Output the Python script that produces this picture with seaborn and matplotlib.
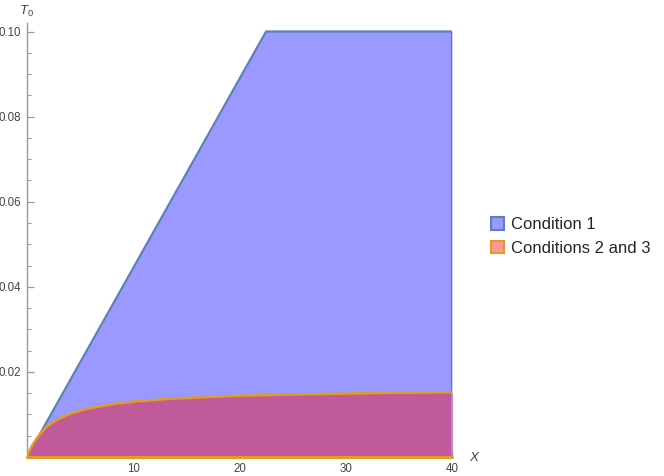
import matplotlib
matplotlib.use("Agg")
import matplotlib.pyplot as plt
from matplotlib.patches import Patch
import numpy as np
import pandas as pd
import seaborn as sns

# ---- data ----
cond1_x = [0.0, 22.5, 40.0]
cond1_top = [0.0, 0.10, 0.10]

cond23_x = [0, 0.25, 0.5, 1, 1.5, 2, 3, 4, 5, 6, 8, 10, 13, 16, 20, 25, 30, 35, 40]
cond23_top = [0, 0.0015, 0.0028, 0.0047, 0.0062, 0.0074, 0.0090, 0.0101, 0.0109,
              0.0115, 0.0124, 0.0130, 0.0136, 0.0140, 0.0144, 0.0147, 0.0149,
              0.0151, 0.0152]

legend_labels = ["Condition 1", "Conditions 2 and 3"]
x_major = [10, 20, 30, 40]
y_major = [0.02, 0.04, 0.06, 0.08, 0.10]
y_labels = ["0.02", "0.04", "0.06", "0.08", "0.10"]

# ---- style ----
sns.set_theme(style="white")
plt.rcParams["font.family"] = ["Liberation Sans", "DejaVu Sans"]
plt.rcParams["mathtext.fontset"] = "custom"
plt.rcParams["mathtext.rm"] = "Liberation Sans"
plt.rcParams["mathtext.it"] = "Liberation Sans:italic"

blue_fill = "#9999FF"
blue_edge = "#5E81B5"
overlap_fill = "#C05A9A"
pink_fill = "#FF9999"
orange_edge = "#E19C24"
axis_gray = "#9A9A9A"
label_gray = "#444444"

fig = plt.figure(figsize=(6.64, 4.76), dpi=100)
ax = fig.add_axes([27 / 664, 19 / 476, (452 - 27) / 664, (457 - 23) / 476])

df1 = pd.DataFrame({"X": cond1_x, "T": cond1_top})
df2 = pd.DataFrame({"X": cond23_x, "T": cond23_top})

# condition 1 region
ax.fill_between(df1["X"], 0, df1["T"], color=blue_fill, lw=0, zorder=1)
sns.lineplot(data=df1, x="X", y="T", ax=ax, color=blue_edge, lw=1.6,
             sort=False, estimator=None, zorder=2)
ax.plot([cond1_x[-1], cond1_x[-1]], [0, cond1_top[-1]], color=blue_edge, lw=1.6, zorder=2)

# conditions 2 and 3 region (overlap)
ax.fill_between(df2["X"], 0, df2["T"], color=overlap_fill, lw=0, zorder=3)
sns.lineplot(data=df2, x="X", y="T", ax=ax, color=orange_edge, lw=1.8,
             sort=False, estimator=None, zorder=4)
ax.plot([cond23_x[-1], cond23_x[-1]], [0, cond23_top[-1]], color=orange_edge, lw=1.8, zorder=4)
ax.plot([0, cond23_x[-1]], [0, 0], color=orange_edge, lw=2.2, zorder=4, clip_on=False)

ax.set_xlim(0, 40)
ax.set_ylim(0, 0.102)

for s in ["top", "right"]:
    ax.spines[s].set_visible(False)
for s in ["left", "bottom"]:
    ax.spines[s].set_color(axis_gray)
    ax.spines[s].set_linewidth(1.0)
    ax.spines[s].set_zorder(0.5)

ax.set_xticks(x_major)
ax.set_xticklabels([str(v) for v in x_major])
ax.set_xticks(np.arange(2, 40, 2), minor=True)
ax.set_yticks(y_major)
ax.set_yticklabels(y_labels)
ax.set_yticks(np.arange(0.005, 0.1, 0.005), minor=True)
ax.tick_params(which="major", direction="in", length=5, width=0.9, color=axis_gray,
               labelsize=8.3, labelcolor=label_gray, pad=4, bottom=True, left=True)
ax.tick_params(which="minor", direction="in", length=3, width=0.8, color=axis_gray,
               bottom=True, left=True)
ax.set_xlabel("")
ax.set_ylabel("")

fig.text(26 / 664, 1 - 11 / 476, r"$T_0$", ha="center", va="center",
         fontsize=9.5, color=label_gray)
fig.text(474 / 664, 1 - 458 / 476, "X", ha="center", va="center",
         fontsize=9.5, color=label_gray, style="italic")

handles = [Patch(facecolor=blue_fill, edgecolor=blue_edge, lw=1.5),
           Patch(facecolor=pink_fill, edgecolor=orange_edge, lw=1.5)]
fig.legend(handles, legend_labels, loc="center left",
           bbox_to_anchor=(491 / 664, 1 - 236.5 / 476), frameon=False,
           fontsize=12, handlelength=0.8, handleheight=0.8, handletextpad=0.4,
           labelspacing=0.5, borderpad=0, borderaxespad=0)

fig.savefig("out.png", dpi=100)
